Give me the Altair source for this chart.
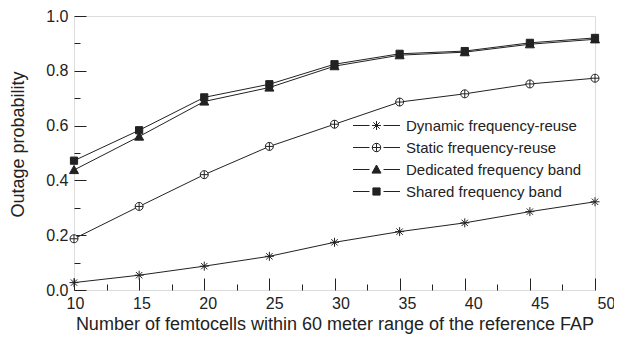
import altair as alt
import pandas as pd

# ---- data ----
femtocells = [10, 15, 20, 25, 30, 35, 40, 45, 50]
series_names = [
    "Dynamic frequency-reuse",
    "Static frequency-reuse",
    "Dedicated frequency band",
    "Shared frequency band",
]
dynamic_reuse = [0.027, 0.054, 0.087, 0.123, 0.174, 0.213, 0.245, 0.286, 0.322]
static_reuse = [0.187, 0.305, 0.421, 0.524, 0.605, 0.686, 0.716, 0.752, 0.773]
dedicated_band = [0.438, 0.560, 0.688, 0.739, 0.817, 0.857, 0.868, 0.897, 0.915]
shared_band = [0.472, 0.583, 0.703, 0.751, 0.824, 0.862, 0.872, 0.902, 0.920]

x_major = [10, 15, 20, 25, 30, 35, 40, 45, 50]
x_minor = [12.5, 17.5, 22.5, 27.5, 32.5, 37.5, 42.5, 47.5]
y_major = [0.0, 0.2, 0.4, 0.6, 0.8, 1.0]
y_minor = [0.1, 0.3, 0.5, 0.7, 0.9]

rows = []
for name, vals in zip(series_names, [dynamic_reuse, static_reuse, dedicated_band, shared_band]):
    for xv, yv in zip(femtocells, vals):
        rows.append({"series": name, "n": xv, "p": yv})
df = pd.DataFrame(rows)

# ---- marker shapes (styling) ----
def f(v):
    return f"{v:.3f}"

def asterisk(r):
    d = r * 0.707
    return (f"M{f(-r)},0L{f(r)},0M0,{f(-r)}L0,{f(r)}"
            f"M{f(-d)},{f(-d)}L{f(d)},{f(d)}M{f(-d)},{f(d)}L{f(d)},{f(-d)}")

def circle_plus(r):
    return (f"M{f(-r)},0A{f(r)},{f(r)} 0 1,0 {f(r)},0A{f(r)},{f(r)} 0 1,0 {f(-r)},0Z"
            f"M{f(-r)},0L{f(r)},0M0,{f(-r)}L0,{f(r)}")

def triangle(r):
    return f"M0,{f(-r)}L{f(r)},{f(0.8 * r)}L{f(-r)},{f(0.8 * r)}Z"

def square(r):
    return f"M{f(-r)},{f(-r)}L{f(r)},{f(-r)}L{f(r)},{f(r)}L{f(-r)},{f(r)}Z"

def with_lines(p, a, b):
    return f"M{f(-b)},0L{f(-a)},0M{f(a)},0L{f(b)},0" + p

# chart markers: size 100 -> one unit = 5 px
chart_shapes = [asterisk(0.9), circle_plus(0.8), triangle(0.9), square(0.72)]
# legend markers: size 400 -> one unit = 10 px
legend_shapes = [
    with_lines(asterisk(0.45), 0.7, 2.35),
    with_lines(circle_plus(0.42), 0.7, 2.35),
    with_lines(triangle(0.45), 0.7, 2.35),
    with_lines(square(0.36), 0.7, 2.35),
]
fills = ["transparent", "white", "#222222", "#222222"]

FONT = "Liberation Sans"
INK = "#222222"

x_scale = alt.Scale(domain=[10, 50], nice=False, zero=False)
y_scale = alt.Scale(domain=[0, 1], nice=False, zero=True)

legend_props = dict(
    orient="none", legendX=292, legendY=99, title=None,
    symbolSize=400, labelOffset=19, rowPadding=3, padding=0,
    labelFont=FONT, labelFontSize=15, labelColor=INK, labelLimit=400,
    symbolStrokeWidth=1, symbolOpacity=1,
)

base = alt.Chart(df)

lines = base.mark_line(color=INK, strokeWidth=1).encode(
    x=alt.X("n:Q", scale=x_scale, axis=alt.Axis(
        orient="bottom", values=x_major, format="d", ticks=False, domain=False, grid=False,
        labelFont=FONT, labelFontSize=16, labelColor=INK, labelPadding=5,
        labelOffset={"expr": "(datum.value - 10) * 0.25 + 1"},
        title="Number of femtocells within 60 meter range of the reference FAP",
        titleFont=FONT, titleFontSize=18, titleFontWeight="normal", titleColor=INK,
        titlePadding=4, labelFlush=False)),
    y=alt.Y("p:Q", scale=y_scale, axis=alt.Axis(
        orient="left", values=y_major, format=".1f", ticks=False, domain=False, grid=False,
        labelFont=FONT, labelFontSize=16, labelColor=INK, labelPadding=6,
        title="Outage probability", titleFont=FONT, titleFontSize=18,
        titleFontWeight="normal", titleColor=INK, titlePadding=18, titleY=128,
        labelFlush=False)),
    detail="series:N",
)

points = base.mark_point(size=100, stroke=INK, strokeWidth=1, opacity=1).encode(
    x=alt.X("n:Q", scale=x_scale, axis=alt.Axis(
        orient="bottom", values=x_major, labels=False, domain=False, grid=False,
        ticks=True, tickSize=12, offset=-12, tickColor=INK, tickWidth=1, title=None)),
    y=alt.Y("p:Q", scale=y_scale, axis=alt.Axis(
        orient="left", values=y_major, labels=False, domain=False, grid=False,
        ticks=True, tickSize=12, offset=-12, tickColor=INK, tickWidth=1, title=None)),
    shape=alt.Shape("series:N", scale=alt.Scale(domain=series_names, range=chart_shapes), legend=None),
    fill=alt.Fill("series:N", scale=alt.Scale(domain=series_names, range=fills), legend=None),
)

legend_layer = base.mark_point(size=0, stroke=INK, strokeWidth=1, opacity=1).encode(
    x=alt.X("n:Q", scale=x_scale, axis=alt.Axis(
        orient="bottom", values=x_minor, labels=False, domain=False, grid=False,
        ticks=True, tickSize=6, offset=-6, tickColor=INK, tickWidth=1, title=None)),
    y=alt.Y("p:Q", scale=y_scale, axis=alt.Axis(
        orient="left", values=y_minor, labels=False, domain=False, grid=False,
        ticks=True, tickSize=6, offset=-6, tickColor=INK, tickWidth=1, title=None)),
    fill=alt.Fill("series:N", scale=alt.Scale(domain=series_names, range=fills),
                  legend=alt.Legend(**legend_props)),
    shape=alt.Shape("series:N", scale=alt.Scale(domain=series_names, range=legend_shapes),
                    legend=alt.Legend(**legend_props)),
)

chart = alt.layer(lines, points, legend_layer).resolve_scale(
    shape="independent", fill="independent"
).resolve_axis(
    x="independent", y="independent"
).properties(
    width=521, height=274,
    padding={"left": 66, "top": 8, "right": 19, "bottom": 47},
    autosize=alt.AutoSizeParams(type="none"),
).configure_view(
    stroke=INK, strokeWidth=1.5
).configure(background="white")

chart.save("out.html", embed_options={"renderer": "svg", "actions": False})
